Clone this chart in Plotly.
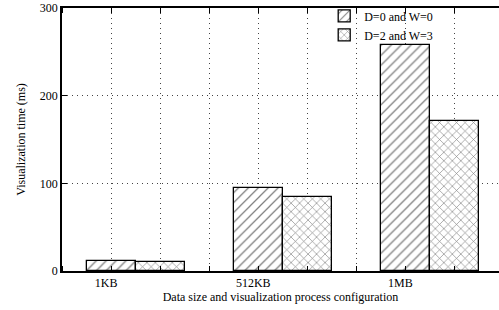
import plotly.graph_objects as go

categories = ["1KB", "512KB", "1MB"]
series_names = ["D=0 and W=0", "D=2 and W=3"]
d0_w0 = [11, 95, 258]
d2_w3 = [10.5, 84, 171]
y_ticks = [0, 100, 200, 300]

FONT = "Liberation Serif"
slot = 3  # bar slots per cluster (2 bars + gap)
x1 = [i * slot for i in range(len(categories))]
x2 = [i * slot + 1 for i in range(len(categories))]
label_pos = [i * slot - 0.1 for i in range(len(categories))]

fig = go.Figure()
fig.add_trace(go.Bar(
    x=x1, y=d0_w0, name=series_names[0], width=1,
    marker=dict(color="white", line=dict(color="black", width=1.3),
                pattern=dict(shape="/", size=7, solidity=0.18,
                             fgcolor="black", bgcolor="white")),
))
fig.add_trace(go.Bar(
    x=x2, y=d2_w3, name=series_names[1], width=1,
    marker=dict(color="white", line=dict(color="black", width=1.3),
                pattern=dict(shape="x", size=6, solidity=0.2,
                             fgcolor="black", bgcolor="white")),
))

fig.update_layout(
    width=499, height=310,
    margin=dict(l=62, r=0, t=8, b=39),
    paper_bgcolor="white", plot_bgcolor="white",
    font=dict(family=FONT, size=12, color="black"),
    barmode="overlay",
    bargap=0,
    showlegend=True,
    legend=dict(x=0.6, xanchor="left", y=1.025, yanchor="top",
                bgcolor="rgba(0,0,0,0)", font=dict(family=FONT, size=12),
                itemwidth=30, tracegroupgap=0),
    xaxis=dict(
        range=[-1.0, 7.91], automargin=False,
        tickmode="array", tickvals=label_pos, ticktext=categories,
        ticks="", showgrid=False, zeroline=False,
        showline=True, linecolor="black", linewidth=2, mirror="ticks",
        tickfont=dict(family=FONT, size=12),
        title=dict(text="Data size and visualization process configuration",
                   font=dict(family=FONT, size=12), standoff=3),
        minor=dict(tick0=0, dtick=1, ticks="inside", ticklen=5,
                   tickcolor="black", showgrid=True, gridcolor="#444",
                   griddash="1px,4px", gridwidth=1),
    ),
    yaxis=dict(
        range=[0, 300], tickmode="array", tickvals=y_ticks, automargin=False,
        ticks="inside", ticklen=5, tickcolor="black",
        showgrid=True, gridcolor="#444", griddash="1px,4px", gridwidth=1,
        zeroline=False, showline=True, linecolor="black", linewidth=1.5,
        tickfont=dict(family=FONT, size=12),
        title=dict(text="Visualization time (ms)",
                   font=dict(family=FONT, size=12), standoff=12),
    ),
)

fig.write_html("out.html", config={"displayModeBar": False},
               post_script="document.body.style.margin='0';document.body.style.overflow='hidden';")
